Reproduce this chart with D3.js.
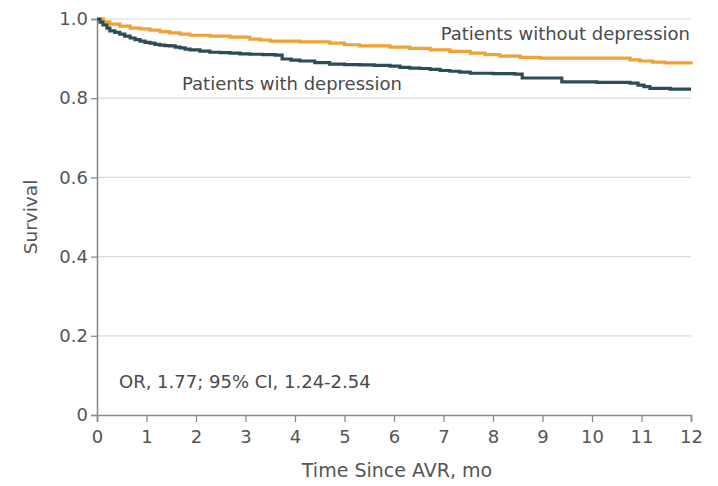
<!DOCTYPE html>
<html><head><meta charset="utf-8">
<script src="https://cdn.jsdelivr.net/npm/d3@7"></script>
<style>
body{margin:0;background:#fff;}
text{font-family:"DejaVu Sans",sans-serif;}
</style></head>
<body><svg id="c" width="718" height="486"></svg>
<script>
const withDepT = [0,0.06,0.12,0.2,0.26,0.36,0.46,0.56,0.67,0.77,0.87,0.97,1.07,1.17,1.27,1.37,1.47,1.58,1.68,1.78,1.88,2.08,2.28,2.49,2.69,2.89,3.09,3.35,3.6,3.74,3.92,4.1,4.4,4.7,5.0,5.3,5.6,5.92,6.12,6.32,6.53,6.73,6.93,7.13,7.33,7.54,8.0,8.44,8.59,9.25,9.39,10.1,10.77,10.93,11.05,11.17,11.58,12];
const withDepS = [1.0,0.992,0.985,0.977,0.970,0.966,0.962,0.957,0.952,0.948,0.944,0.941,0.939,0.936,0.934,0.933,0.932,0.929,0.927,0.924,0.922,0.919,0.916,0.915,0.914,0.912,0.911,0.910,0.909,0.899,0.896,0.894,0.890,0.886,0.885,0.884,0.883,0.881,0.878,0.876,0.875,0.873,0.870,0.868,0.866,0.863,0.862,0.861,0.851,0.851,0.841,0.840,0.838,0.833,0.829,0.825,0.823,0.823];
const withoutDepT = [0,0.13,0.26,0.46,0.67,0.87,1.07,1.27,1.47,1.68,1.88,2.28,2.69,3.09,3.3,3.5,4.1,4.7,5.0,5.3,5.92,6.32,6.73,7.13,7.54,7.84,8.14,8.55,8.95,10.57,10.77,10.97,11.22,11.47,12];
const withoutDepS = [1.0,0.993,0.987,0.982,0.977,0.975,0.972,0.968,0.965,0.962,0.959,0.957,0.954,0.949,0.947,0.944,0.942,0.939,0.935,0.932,0.929,0.926,0.922,0.918,0.914,0.910,0.906,0.903,0.901,0.901,0.897,0.894,0.891,0.889,0.886];
const xTicks = [0,1,2,3,4,5,6,7,8,9,10,11,12];
const yTicks = [0,0.2,0.4,0.6,0.8,1.0];
const yTickLabels = ["0","0.2","0.4","0.6","0.8","1.0"];
const seriesLabels = ["Patients without depression","Patients with depression"];
const annotation = "OR, 1.77; 95% CI, 1.24-2.54";

const svg = d3.select("#c");
const x = d3.scaleLinear().domain([0,12]).range([97,691]);
const y = d3.scaleLinear().domain([0,1]).range([415,19]);
const axisColor = "#8a8a8a", textColor = "#555";

// grid
svg.append("g").selectAll("line").data(yTicks.filter(d=>d>0)).join("line")
  .attr("x1",x(0)).attr("x2",x(12)).attr("y1",d=>y(d)).attr("y2",d=>y(d))
  .attr("stroke","#dcdcdc").attr("stroke-width",1.2);

// axes
const xa = svg.append("g").attr("transform",`translate(0,${y(0)})`)
  .call(d3.axisBottom(x).tickValues(xTicks).tickSize(7).tickPadding(8).tickFormat(d3.format("d")));
const ya = svg.append("g").attr("transform",`translate(${x(0)},0)`)
  .call(d3.axisLeft(y).tickValues(yTicks).tickSize(6).tickPadding(3).tickFormat((d,i)=>yTickLabels[i]));
[xa,ya].forEach(a=>{
  a.select(".domain").attr("stroke",axisColor).attr("stroke-width",1.6);
  a.selectAll(".tick line").attr("stroke",axisColor).attr("stroke-width",1.3);
  a.selectAll(".tick text").attr("fill",textColor).attr("font-size",18)
   .style("font-family",'"DejaVu Sans",sans-serif');
});

// curves
const line = d3.line().x(d=>x(d[0])).y(d=>y(d[1])).curve(d3.curveStepAfter);
svg.append("path").datum(withoutDepT.map((t,i)=>[t,withoutDepS[i]]))
  .attr("d",line).attr("fill","none").attr("stroke","#f0a234").attr("stroke-width",3.2);
svg.append("path").datum(withDepT.map((t,i)=>[t,withDepS[i]]))
  .attr("d",line).attr("fill","none").attr("stroke","#2c4d55").attr("stroke-width",3.2);

// labels
svg.append("text").attr("x",690).attr("y",40).attr("text-anchor","end")
  .attr("fill","#4a4a4a").attr("font-size",18).text(seriesLabels[0]);
svg.append("text").attr("x",182).attr("y",90)
  .attr("fill","#4a4a4a").attr("font-size",18).text(seriesLabels[1]);
svg.append("text").attr("x",119).attr("y",388)
  .attr("fill","#4a4a4a").attr("font-size",18).text(annotation);

svg.append("text").attr("x",397).attr("y",477).attr("text-anchor","middle")
  .attr("fill",textColor).attr("font-size",19).text("Time Since AVR, mo");
svg.append("text").attr("transform","translate(37,217) rotate(-90)").attr("text-anchor","middle")
  .attr("fill",textColor).attr("font-size",18.5).text("Survival");
</script></body></html>
